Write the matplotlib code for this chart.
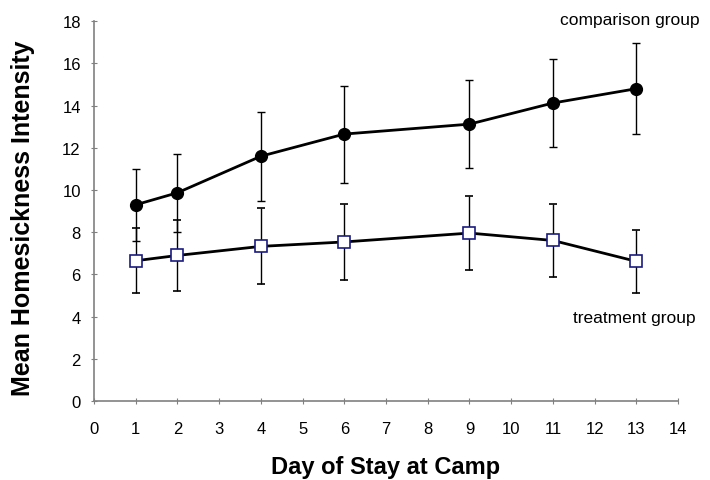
import matplotlib.pyplot as plt

days = [1, 2, 4, 6, 9, 11, 13]
comparison = [9.3, 9.87, 11.6, 12.65, 13.12, 14.12, 14.8]
comparison_err = [1.7, 1.85, 2.1, 2.3, 2.1, 2.1, 2.15]
treatment = [6.65, 6.9, 7.33, 7.54, 7.96, 7.61, 6.62]
treatment_err = [1.55, 1.7, 1.8, 1.8, 1.77, 1.72, 1.5]

plt.rcParams['font.family'] = ['Liberation Sans', 'DejaVu Sans']

fig = plt.figure(figsize=(7.1, 4.81), dpi=100)
ax = fig.add_axes([0.1324, 0.164, 0.8226, 0.79])

ax.errorbar(days, comparison, yerr=comparison_err, color='black', linewidth=2,
            marker='o', markersize=8.5, markerfacecolor='black', markeredgecolor='black',
            ecolor='black', elinewidth=1, capsize=3, capthick=1, zorder=3)
ax.errorbar(days, treatment, yerr=treatment_err, color='black', linewidth=2,
            marker='s', markersize=8.5, markerfacecolor='white', markeredgecolor='#1a1a80',
            markeredgewidth=1.2, ecolor='black', elinewidth=1, capsize=3, capthick=1, zorder=3)

# group labels
fig.text(630 / 710, 1 - 20 / 481, 'comparison group', fontsize=12.5, ha='center', va='center')
fig.text(634 / 710, 1 - 318 / 481, 'treatment group', fontsize=12.5, ha='center', va='center')

ax.set_xlim(0, 14)
ax.set_ylim(0, 18)
ax.set_xticks(range(0, 15))
ax.set_yticks(range(0, 19, 2))
ax.tick_params(axis='both', direction='inout', length=5, color='#808080', labelsize=12)
ax.tick_params(axis='x', pad=12)
ax.tick_params(axis='y', pad=7)
for side in ['top', 'right']:
    ax.spines[side].set_visible(False)
for side in ['left', 'bottom']:
    ax.spines[side].set_color('#808080')
    ax.spines[side].set_linewidth(1.2)

fig.text(386 / 710, 1 - 468 / 481, 'Day of Stay at Camp', fontsize=17,
         fontweight='bold', ha='center', va='center')
fig.text(23 / 710, 1 - 218 / 481, 'Mean Homesickness Intensity', fontsize=18,
         fontweight='bold', ha='center', va='center', rotation=90)

plt.savefig('out.png', dpi=100)
plt.close()
